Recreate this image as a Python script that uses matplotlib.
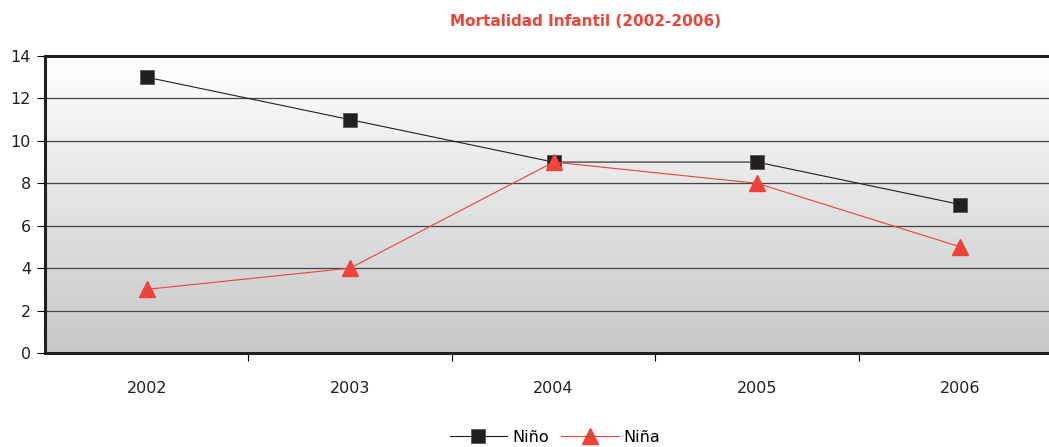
import numpy as np
import matplotlib.pyplot as plt

###############################################################################
# Data
###############################################################################
years = ['2002', '2003', '2004', '2005', '2006']
nino = [13, 11, 9, 9, 7]
nina = [3, 4, 9, 8, 5]

red = '#ee4338'

fig = plt.figure(figsize=(10.49, 4.47), dpi=100)
W, H = 1049.0, 447.0
ax = fig.add_axes([45 / W, 1 - 353 / H, (1062 - 45) / W, (353 - 56) / H])

# gradient background (white on top, grey at bottom)
grad = np.linspace(0, 1, 256).reshape(-1, 1)
ax.imshow(grad, extent=[0, 1, 0, 1], transform=ax.transAxes, aspect='auto',
          cmap=plt.matplotlib.colors.LinearSegmentedColormap.from_list(
              'bg', ['#ffffff', '#c6c7c9']), zorder=0)

x = np.arange(len(years))
ax.plot(x, nino, color='#231f20', lw=0.8, marker='s', markersize=10.5,
        markeredgecolor='#555555', markeredgewidth=0.6, label='Niño', zorder=3)
ax.plot(x, nina, color=red, lw=0.8, marker='^', markersize=11.5,
        markeredgecolor=red, label='Niña', zorder=4)

ax.set_xlim(-0.5, len(years) - 0.5)
ax.set_ylim(0, 14)
ax.set_yticks(range(0, 15, 2))
ax.set_xticks(x)
ax.set_xticklabels(years)
ax.set_xticks(np.arange(0.5, len(years) - 0.5, 1), minor=True)
ax.tick_params(axis='x', which='major', length=0, pad=20, labelsize=11.5, labelcolor='#231f20')
ax.tick_params(axis='x', which='minor', length=6, width=0.8, direction='out')
ax.tick_params(axis='y', length=6, width=0.8, labelsize=11.5, labelcolor='#231f20', pad=4)
ax.grid(axis='y', color='#444444', lw=0.9, zorder=1)
ax.set_axisbelow(True)

for s in ['top', 'left', 'bottom']:
    ax.spines[s].set_linewidth(2.2)
    ax.spines[s].set_color('#231f20')
ax.spines['right'].set_visible(False)

fig.text(585 / W, 1 - 22 / H, 'Mortalidad Infantil (2002-2006)', color=red,
         fontsize=11, fontweight='bold', ha='center', va='center')

fig.legend(loc='center', bbox_to_anchor=(555 / W, 1 - 437 / H), ncol=2,
           frameon=False, fontsize=11.5, handlelength=3.6, columnspacing=0.8,
           handletextpad=0.3)

plt.savefig('out.png', dpi=100)
